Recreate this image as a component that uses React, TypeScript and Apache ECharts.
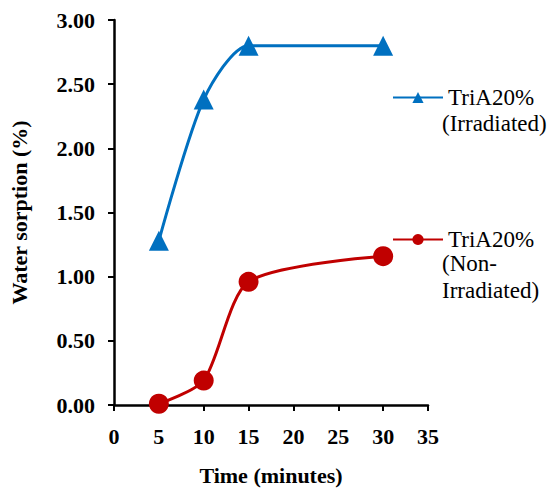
import React, { useEffect, useRef } from "react";
import * as echarts from "echarts";

const times = [5, 10, 15, 30];
const irradiated = [1.28, 2.38, 2.8, 2.8];
const nonIrradiated = [0.01, 0.19, 0.96, 1.16];
const nameIrr = "TriA20% (Irradiated)";
const nameNon = "TriA20% (Non-Irradiated)";
const legendFirstLine = "TriA20%";
const irrExtraLines = "(Irradiated)";
const nonExtraLines = "(Non-\nIrradiated)";

export default function App() {
  const ref = useRef<HTMLDivElement>(null);
  useEffect(() => {
    const chart = echarts.init(ref.current!, null, { renderer: "svg" });
    const font = "Times New Roman, Liberation Serif, serif";
    const legendText = { fontFamily: font, fontSize: 23, color: "#000" };
    chart.setOption({
      animation: false,
      backgroundColor: "#fff",
      textStyle: { fontFamily: font },
      grid: { left: 107, top: 20, right: 131, bottom: 77 },
      legend: [
        {
          data: [nameIrr],
          left: 387,
          top: 81,
          itemWidth: 50,
          itemHeight: 14,
          itemGap: 3,
          formatter: () => legendFirstLine,
          textStyle: legendText,
        },
        {
          data: [nameNon],
          left: 387,
          top: 223,
          itemWidth: 50,
          itemHeight: 14,
          itemGap: 3,
          formatter: () => legendFirstLine,
          textStyle: legendText,
        },
      ],
      graphic: [
        {
          type: "text",
          left: 442,
          top: 110,
          style: { text: irrExtraLines, fontFamily: font, fontSize: 23, fill: "#000", lineHeight: 26 },
        },
        {
          type: "text",
          left: 442,
          top: 250,
          style: { text: nonExtraLines, fontFamily: font, fontSize: 23, fill: "#000", lineHeight: 27 },
        },
      ],
      xAxis: {
        type: "value",
        min: 0,
        max: 35,
        interval: 5,
        name: "Time (minutes)",
        nameLocation: "middle",
        nameGap: 59,
        nameTextStyle: { fontFamily: font, fontSize: 22, fontWeight: "bold", color: "#000" },
        axisLine: { onZero: false, lineStyle: { color: "#000", width: 2.5 } },
        axisTick: { show: true, length: 6, lineStyle: { color: "#000", width: 2 } },
        axisLabel: { fontFamily: font, fontSize: 22, fontWeight: "bold", color: "#000", margin: 20 },
        splitLine: { show: false },
      },
      yAxis: {
        type: "value",
        min: 0,
        max: 3,
        interval: 0.5,
        name: "Water sorption (%)",
        nameLocation: "middle",
        nameGap: 84,
        nameTextStyle: { fontFamily: font, fontSize: 22, fontWeight: "bold", color: "#000" },
        axisLine: { show: true, lineStyle: { color: "#000", width: 2.5 } },
        axisTick: { show: true, length: 6, lineStyle: { color: "#000", width: 2 } },
        axisLabel: {
          fontFamily: font,
          fontSize: 22,
          fontWeight: "bold",
          color: "#000",
          margin: 19,
          formatter: (v: number) => v.toFixed(2),
        },
        splitLine: { show: false },
      },
      series: [
        {
          name: nameIrr,
          type: "line",
          data: times.map((t, i) => [t, irradiated[i]]),
          smooth: 0.25,
          symbol: "triangle",
          symbolSize: 20,
          lineStyle: { color: "#0070C0", width: 3 },
          itemStyle: { color: "#0070C0" },
        },
        {
          name: nameNon,
          type: "line",
          data: times.map((t, i) => [t, nonIrradiated[i]]),
          smooth: 0.25,
          symbol: "circle",
          symbolSize: 20,
          lineStyle: { color: "#C00000", width: 3 },
          itemStyle: { color: "#C00000" },
        },
      ],
    });
    return () => chart.dispose();
  }, []);
  return <div ref={ref} style={{ width: 559, height: 491, position: "absolute", left: 0, top: 0 }} />;
}
